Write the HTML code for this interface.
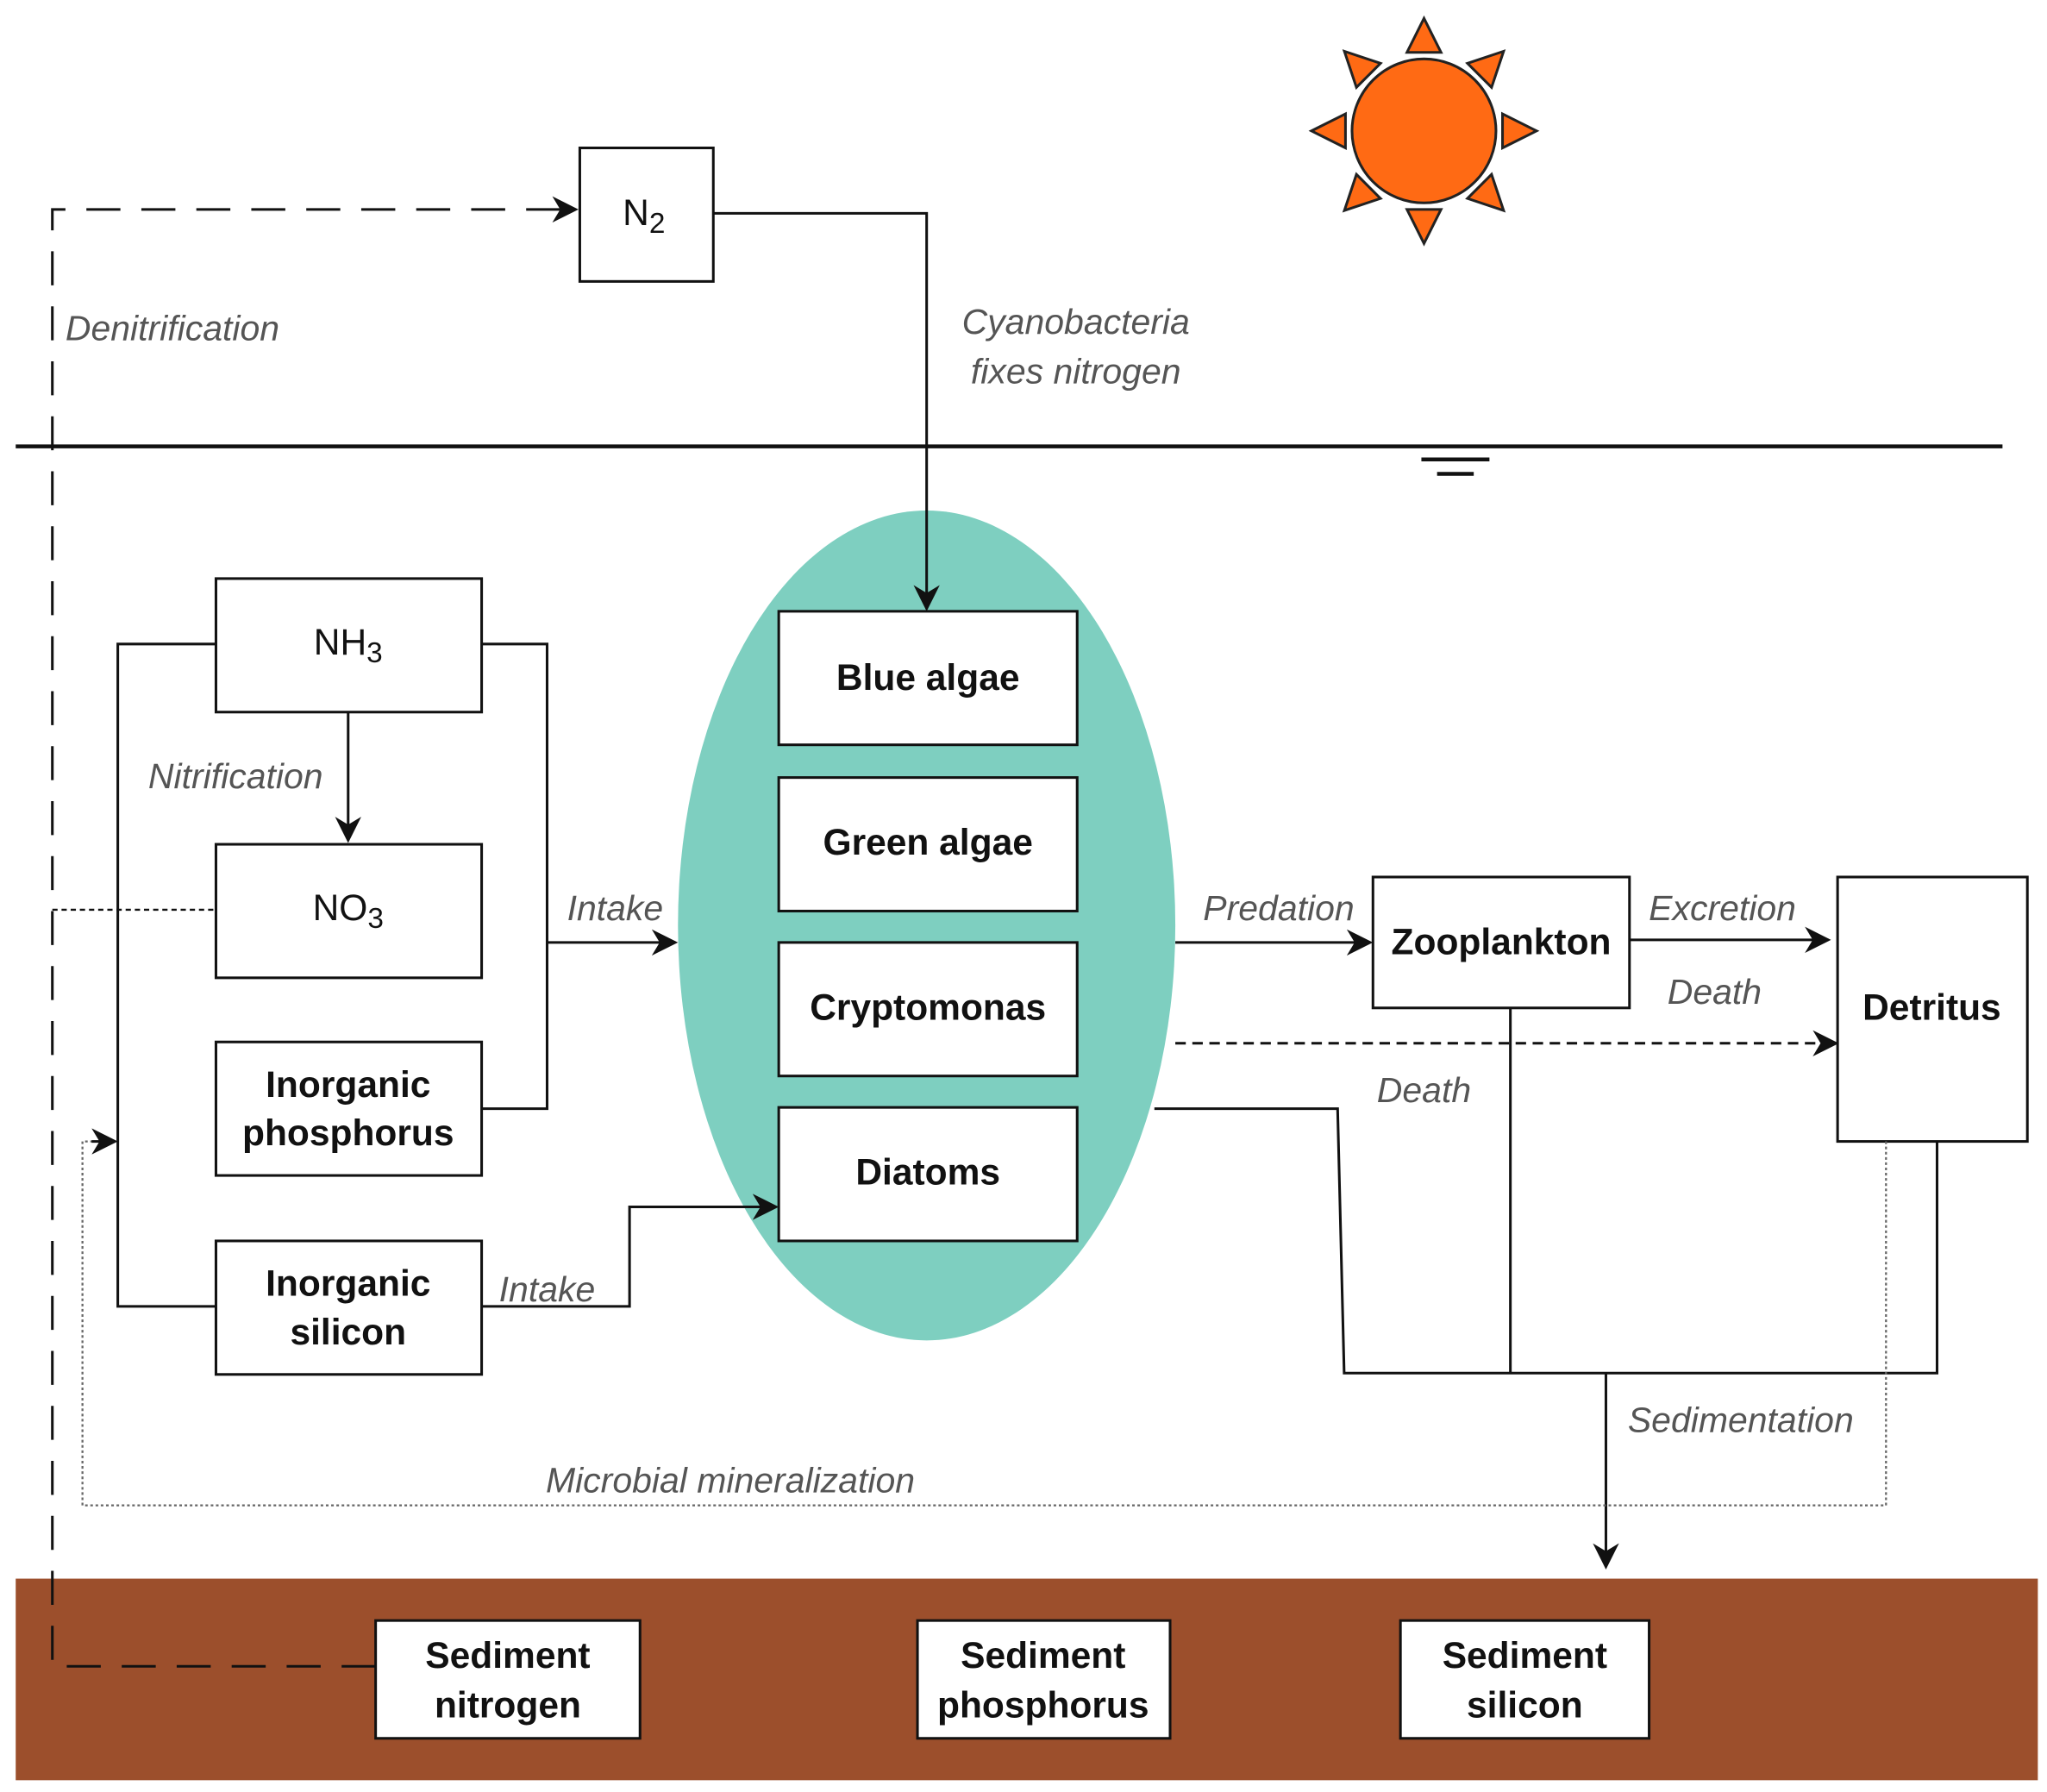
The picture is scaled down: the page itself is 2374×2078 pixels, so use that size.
<!DOCTYPE html>
<html><head><meta charset="utf-8"><style>
html,body{margin:0;padding:0;background:#fff}
svg{display:block}
.b{font-family:"Liberation Sans",sans-serif;font-weight:bold;font-size:28px;fill:#111;text-anchor:middle}
.i{font-family:"Liberation Sans",sans-serif;font-style:italic;font-size:27px;fill:#555}
.box{fill:#fff;stroke:#111;stroke-width:2}
.ln{stroke:#111;stroke-width:2;fill:none}
</style></head><body>
<svg width="2374" height="2078" viewBox="0 0 1564 1369" xmlns="http://www.w3.org/2000/svg">
<defs>
<marker id="a" viewBox="0 0 10 10" refX="9" refY="5" markerWidth="10" markerHeight="10" markerUnits="userSpaceOnUse" orient="auto"><path d="M0,0 L10,5 L0,10 L3,5 z" fill="#111"/></marker>
<marker id="ab" viewBox="0 0 10 10" refX="9" refY="5" markerWidth="20" markerHeight="20" markerUnits="userSpaceOnUse" orient="auto"><path d="M0,0 L10,5 L0,10 L3,5 z" fill="#111"/></marker>
</defs>
<!-- sun -->
<g transform="translate(1088,100)" fill="#FF6A14" stroke="#222" stroke-width="2">
<circle r="55"/>
<g id="t"><path d="M-13,-60 L13,-60 L0,-86 z"/></g>
<use href="#t" transform="rotate(45)"/><use href="#t" transform="rotate(90)"/><use href="#t" transform="rotate(135)"/>
<use href="#t" transform="rotate(180)"/><use href="#t" transform="rotate(225)"/><use href="#t" transform="rotate(270)"/><use href="#t" transform="rotate(315)"/>
</g>
<!-- sediment -->
<rect x="12" y="1206" width="1545" height="154" fill="#9C4F2C"/>
<!-- water line -->
<line x1="12" y1="341" x2="1530" y2="341" stroke="#111" stroke-width="3"/>
<line x1="1086" y1="351" x2="1138" y2="351" stroke="#111" stroke-width="3"/>
<line x1="1098" y1="362" x2="1126" y2="362" stroke="#111" stroke-width="3"/>
<!-- denitrification dashed -->
<path d="M287,1273 L40,1273 L40,160 L440,160" stroke="#111" stroke-width="2" fill="none" stroke-dasharray="26,16" marker-end="url(#ab)"/>
<text class="i" x="50" y="260">Denitrification</text>
<!-- N2 -->
<rect class="box" x="443" y="113" width="102" height="102"/>
<text class="b" x="492" y="172" style="font-weight:normal">N<tspan font-size="22" dy="6">2</tspan></text>
<path class="ln" d="M545,163 L708,163 L708,465" marker-end="url(#ab)"/>
<text class="i" x="822" y="255" text-anchor="middle">Cyanobacteria</text>
<text class="i" x="822" y="293" text-anchor="middle">fixes nitrogen</text>
<!-- ellipse -->
<ellipse cx="708" cy="707" rx="190" ry="317" fill="#7ECFC0"/>
<path class="ln" d="M708,390 L708,465" marker-end="url(#ab)"/>
<rect class="box" x="595" y="467" width="228" height="102"/><text class="b" x="709" y="527">Blue algae</text>
<rect class="box" x="595" y="594" width="228" height="102"/><text class="b" x="709" y="653">Green algae</text>
<rect class="box" x="595" y="720" width="228" height="102"/><text class="b" x="709" y="779">Cryptomonas</text>
<rect class="box" x="595" y="846" width="228" height="102"/><text class="b" x="709" y="905">Diatoms</text>
<!-- left boxes -->
<path class="ln" d="M165,492 L90,492 L90,998 L165,998"/>
<path class="ln" d="M368,492 L418,492 L418,847 L368,847"/>
<path class="ln" d="M418,720 L516,720" marker-end="url(#ab)"/>
<text class="i" x="470" y="703" text-anchor="middle">Intake</text>
<path class="ln" d="M266,544 L266,642" marker-end="url(#ab)"/>
<text class="i" x="180" y="602" text-anchor="middle">Nitrification</text>
<path d="M40,695 L165,695" stroke="#111" stroke-width="1.5" stroke-dasharray="4,3"/>
<rect class="box" x="165" y="442" width="203" height="102"/><text class="b" x="266" y="500" style="font-weight:normal">NH<tspan font-size="22" dy="6">3</tspan></text>
<rect class="box" x="165" y="645" width="203" height="102"/><text class="b" x="266" y="703" style="font-weight:normal">NO<tspan font-size="22" dy="6">3</tspan></text>
<rect class="box" x="165" y="796" width="203" height="102"/><text class="b" x="266" y="838">Inorganic</text><text class="b" x="266" y="875">phosphorus</text>
<rect class="box" x="165" y="948" width="203" height="102"/><text class="b" x="266" y="990">Inorganic</text><text class="b" x="266" y="1027">silicon</text>
<path class="ln" d="M368,998 L481,998 L481,922 L593,922" marker-end="url(#ab)"/>
<text class="i" x="418" y="994" text-anchor="middle">Intake</text>
<!-- right side -->
<path class="ln" d="M898,720 L1047,720" marker-end="url(#ab)"/>
<text class="i" x="977" y="703" text-anchor="middle">Predation</text>
<rect class="box" x="1049" y="670" width="196" height="100"/><text class="b" x="1147" y="729">Zooplankton</text>
<path class="ln" d="M1245,718 L1397,718" marker-end="url(#ab)"/>
<text class="i" x="1316" y="703" text-anchor="middle">Excretion</text>
<text class="i" x="1310" y="767" text-anchor="middle">Death</text>
<rect class="box" x="1404" y="670" width="145" height="202"/><text class="b" x="1476" y="779">Detritus</text>
<path d="M898,797 L1403,797" stroke="#111" stroke-width="2" stroke-dasharray="8,5" fill="none" marker-end="url(#ab)"/>
<text class="i" x="1088" y="842" text-anchor="middle">Death</text>
<path class="ln" d="M882,847 L1022,847 L1027,1049 L1480,1049 L1480,872"/>
<path class="ln" d="M1154,770 L1154,1049"/>
<path class="ln" d="M1227,1049 L1227,1197" marker-end="url(#ab)"/>
<text class="i" x="1330" y="1094" text-anchor="middle">Sedimentation</text>
<path d="M1441,872 L1441,1150 L63,1150 L63,872 L86,872" stroke="#666" stroke-width="1.5" stroke-dasharray="2,2" fill="none"/>
<path class="ln" d="M70,872 L88,872" marker-end="url(#ab)"/>
<text class="i" x="558" y="1140" text-anchor="middle">Microbial mineralization</text>
<!-- sediment boxes -->
<rect class="box" x="287" y="1238" width="202" height="90"/><text class="b" x="388" y="1274">Sediment</text><text class="b" x="388" y="1312">nitrogen</text>
<rect class="box" x="701" y="1238" width="193" height="90"/><text class="b" x="797" y="1274">Sediment</text><text class="b" x="797" y="1312">phosphorus</text>
<rect class="box" x="1070" y="1238" width="190" height="90"/><text class="b" x="1165" y="1274">Sediment</text><text class="b" x="1165" y="1312">silicon</text>
</svg>
</body></html>
